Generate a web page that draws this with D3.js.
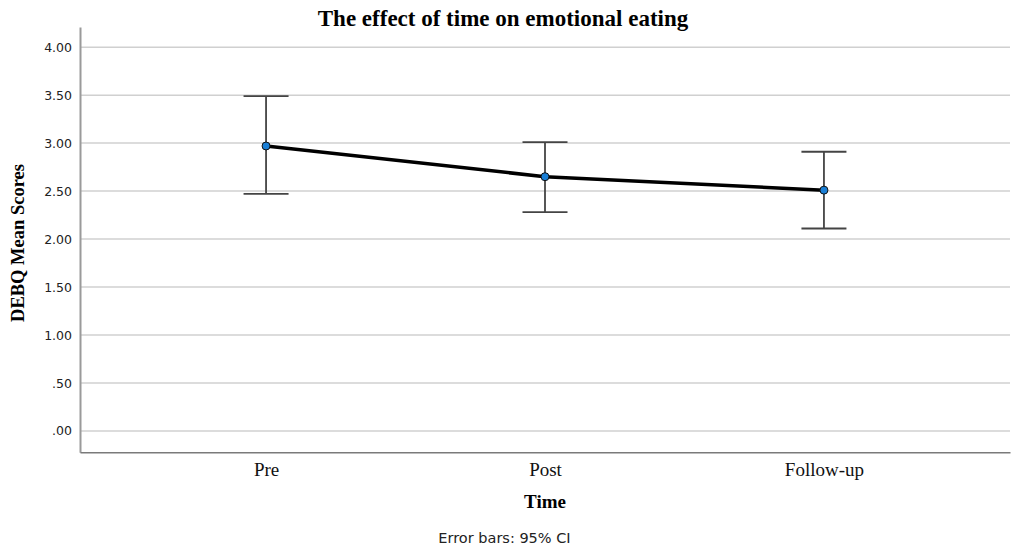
<!DOCTYPE html>
<html>
<head>
<meta charset="utf-8">
<script src="https://cdn.jsdelivr.net/npm/d3@7"></script>
<style>
html,body{margin:0;padding:0;background:#fff;}
svg{display:block;}
</style>
</head>
<body>
<svg id="chart" width="1011" height="553"></svg>
<script>
const categories = ["Pre", "Post", "Follow-up"];
const means = [2.97, 2.65, 2.51];
const ciLower = [2.47, 2.28, 2.11];
const ciUpper = [3.49, 3.01, 2.91];
const yTicks = [0, 0.5, 1, 1.5, 2, 2.5, 3, 3.5, 4];
const yTickLabels = [".00", ".50", "1.00", "1.50", "2.00", "2.50", "3.00", "3.50", "4.00"];

const svg = d3.select("#chart");
const margin = {left: 80, right: 1, top: 27, bottom: 100};
const W = 1011, H = 553;
const x0 = margin.left, x1 = W - margin.right;
const yBottom = 452.3;

const y = d3.scaleLinear().domain([-0.222, 4.21]).range([yBottom, margin.top]);
const x = d3.scalePoint().domain(categories).range([x0, x1]).padding(0.667);

// gridlines
svg.append("g").selectAll("line").data(yTicks).join("line")
  .attr("x1", x0).attr("x2", x1)
  .attr("y1", d => y(d)).attr("y2", d => y(d))
  .attr("stroke", "#d0d0d0").attr("stroke-width", 1.5);

// y axis
const yAxis = d3.axisLeft(y).tickValues(yTicks)
  .tickFormat((d, i) => yTickLabels[i]).tickSize(0).tickPadding(8);
const gy = svg.append("g").attr("transform", `translate(${x0},0)`).call(yAxis);
gy.select(".domain").attr("stroke", "#9a9a9a").attr("stroke-width", 2);
gy.selectAll("text").attr("font-family", "DejaVu Sans, sans-serif")
  .attr("font-size", "12.5px").attr("fill", "#222");

// x axis
const xAxis = d3.axisBottom(x).tickSize(0).tickPadding(10);
const gx = svg.append("g").attr("transform", `translate(0,${yBottom})`).call(xAxis);
gx.select(".domain").attr("stroke", "#7a7a7a").attr("stroke-width", 1.5);
gx.selectAll("text").attr("font-family", "Liberation Serif, Times New Roman, serif")
  .attr("font-size", "19px").attr("fill", "#111");

// error bars
const data = categories.map((c, i) => ({c, m: means[i], lo: ciLower[i], hi: ciUpper[i]}));
const eb = svg.append("g").attr("stroke", "#444").attr("stroke-width", 1.8);
eb.selectAll(".v").data(data).join("line")
  .attr("x1", d => x(d.c)).attr("x2", d => x(d.c))
  .attr("y1", d => y(d.lo)).attr("y2", d => y(d.hi));
const cap = 22.5;
eb.selectAll(".t").data(data).join("line")
  .attr("x1", d => x(d.c) - cap).attr("x2", d => x(d.c) + cap)
  .attr("y1", d => y(d.hi)).attr("y2", d => y(d.hi));
eb.selectAll(".b").data(data).join("line")
  .attr("x1", d => x(d.c) - cap).attr("x2", d => x(d.c) + cap)
  .attr("y1", d => y(d.lo)).attr("y2", d => y(d.lo));

// line
svg.append("path").datum(data)
  .attr("d", d3.line().x(d => x(d.c)).y(d => y(d.m)))
  .attr("fill", "none").attr("stroke", "#000").attr("stroke-width", 3.5);

// points
svg.append("g").selectAll("circle").data(data).join("circle")
  .attr("cx", d => x(d.c)).attr("cy", d => y(d.m)).attr("r", 4)
  .attr("fill", "#1a7fd6").attr("stroke", "#111").attr("stroke-width", 1);

// title
svg.append("text").attr("x", 503).attr("y", 26).attr("text-anchor", "middle")
  .attr("font-family", "Liberation Serif, Times New Roman, serif")
  .attr("font-weight", "bold").attr("font-size", "23px").attr("fill", "#000")
  .text("The effect of time on emotional eating");

// y label
svg.append("text").attr("transform", "translate(24,243) rotate(-90)")
  .attr("text-anchor", "middle")
  .attr("font-family", "Liberation Serif, Times New Roman, serif")
  .attr("font-weight", "bold").attr("font-size", "18.5px").attr("fill", "#000")
  .text("DEBQ Mean Scores");

// x label
svg.append("text").attr("x", 545).attr("y", 508).attr("text-anchor", "middle")
  .attr("font-family", "Liberation Serif, Times New Roman, serif")
  .attr("font-weight", "bold").attr("font-size", "19px").attr("fill", "#000")
  .text("Time");

// footnote
svg.append("text").attr("x", 504.5).attr("y", 543).attr("text-anchor", "middle")
  .attr("font-family", "DejaVu Sans, sans-serif")
  .attr("font-size", "14.5px").attr("fill", "#222")
  .text("Error bars: 95% CI");
</script>
</body>
</html>
